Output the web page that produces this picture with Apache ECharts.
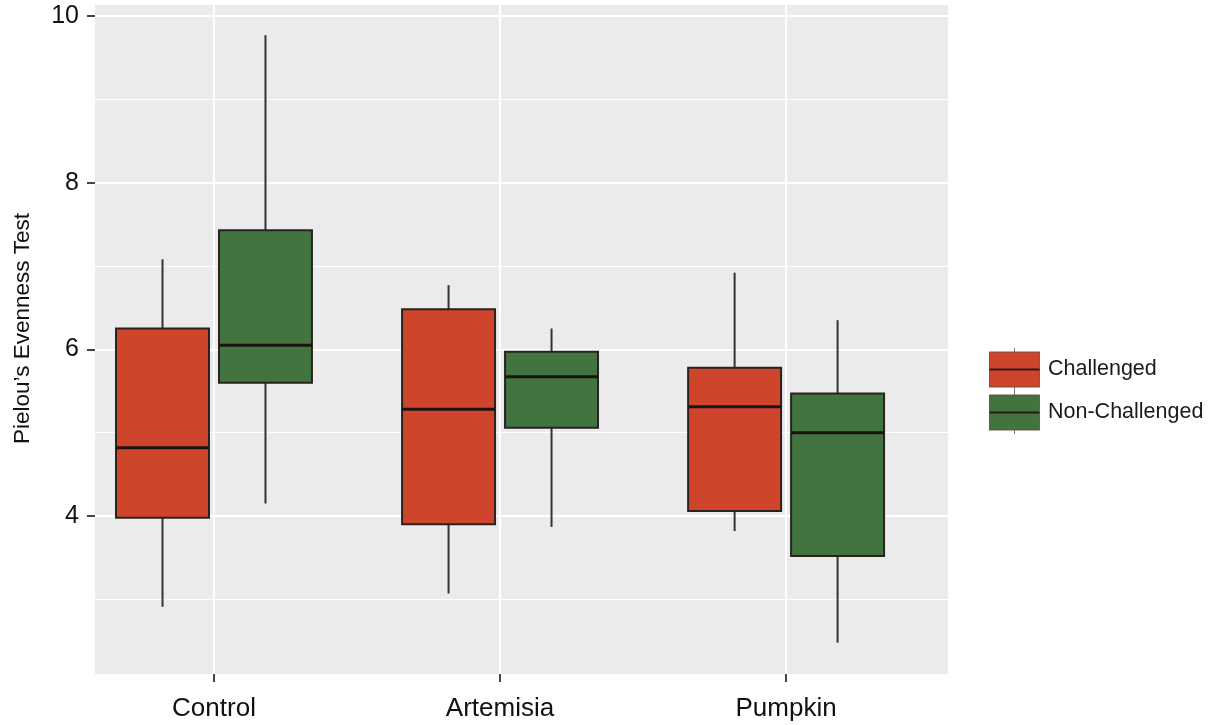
<!DOCTYPE html>
<html>
<head>
<meta charset="utf-8">
<script src="https://cdn.jsdelivr.net/npm/echarts@6/dist/echarts.min.js"></script>
<style>
html,body{margin:0;padding:0;background:#fff;}
#chart{width:1219px;height:725px;}
</style>
</head>
<body>
<div id="chart"></div>
<script>
// ---- data ----
const categories = ['Control', 'Artemisia', 'Pumpkin'];
const groupNames = ['Challenged', 'Non-Challenged'];
// [min, Q1, median, Q3, max]
const challenged = [
  [2.91, 3.98, 4.82, 6.25, 7.08],
  [3.07, 3.90, 5.28, 6.48, 6.77],
  [3.82, 4.06, 5.31, 5.78, 6.92]
];
const nonChallenged = [
  [4.15, 5.60, 6.05, 7.43, 9.77],
  [3.87, 5.06, 5.67, 5.97, 6.25],
  [2.48, 3.52, 5.00, 5.47, 6.35]
];
const yMajorTicks = [4, 6, 8, 10];
const yMinorTicks = [3, 5, 7, 9];
const yAxisTitle = 'Pielou\u2019s Evenness Test';

// ---- styling ----
const colors = ['#CF452C', '#41743F'];
const FONT = 'Liberation Sans';
const BOX_W = 0.325;      // box width in x-axis units
const DODGE = 0.18;       // centre offset of each group in x-axis units

function makeRender(offset, color) {
  return function (params, api) {
    const x = api.value(0) + offset;
    const cx = api.coord([x, api.value(3)])[0];
    const halfW = api.size([BOX_W, 0])[0] / 2;
    const yLo = api.coord([x, api.value(1)])[1];
    const yQ1 = api.coord([x, api.value(2)])[1];
    const yMed = api.coord([x, api.value(3)])[1];
    const yQ3 = api.coord([x, api.value(4)])[1];
    const yHi = api.coord([x, api.value(5)])[1];
    const whisker = { stroke: '#333333', lineWidth: 2 };
    return {
      type: 'group',
      children: [
        { type: 'line', shape: { x1: cx, y1: yHi, x2: cx, y2: yQ3 }, style: whisker },
        { type: 'line', shape: { x1: cx, y1: yQ1, x2: cx, y2: yLo }, style: whisker },
        { type: 'rect', shape: { x: cx - halfW, y: yQ3, width: 2 * halfW, height: yQ1 - yQ3 },
          style: { fill: color, stroke: '#2b2220', lineWidth: 2 } },
        { type: 'line', shape: { x1: cx - halfW, y1: yMed, x2: cx + halfW, y2: yMed },
          style: { stroke: '#1c1412', lineWidth: 3 } }
      ]
    };
  };
}

function keyIcon(color) {
  const svg = '<svg xmlns="http://www.w3.org/2000/svg" width="51" height="43" viewBox="0 0 51 43">' +
    '<line x1="25.5" y1="0" x2="25.5" y2="43" stroke="#777" stroke-width="1"/>' +
    '<rect x="0.6" y="4" width="49.8" height="35" fill="' + color + '" stroke="#6a4a44" stroke-width="0.9"/>' +
    '<line x1="0.6" y1="21.5" x2="50.4" y2="21.5" stroke="#2a1a18" stroke-width="2"/>' +
    '</svg>';
  return 'image://data:image/svg+xml;charset=utf-8,' + encodeURIComponent(svg);
}

const seriesData = [challenged, nonChallenged].map(function (arr) {
  return categories.map(function (c, i) { return [i + 1].concat(arr[i]); });
});

const chart = echarts.init(document.getElementById('chart'), null, { renderer: 'canvas' });
chart.setOption({
  animation: false,
  backgroundColor: '#ffffff',
  textStyle: { fontFamily: FONT },
  grid: {
    left: 95, right: 271, top: 5, bottom: 51,
    show: true, backgroundColor: '#EBEBEB', borderWidth: 0
  },
  legend: {
    orient: 'vertical',
    left: 989, top: 348,
    padding: 0,
    itemWidth: 51, itemHeight: 43, itemGap: 0,
    selectedMode: false,
    textStyle: { fontFamily: FONT, fontSize: 21.5, color: '#1a1a1a', padding: [0, 0, 0, 3] },
    data: groupNames.map(function (n, i) { return { name: n, icon: keyIcon(colors[i]) }; })
  },
  xAxis: {
    type: 'value',
    min: 0.584, max: 3.566,
    axisLine: { show: false },
    axisTick: { show: true, length: 8, lineStyle: { color: '#444', width: 2 }, customValues: [1, 2, 3] },
    axisLabel: {
      customValues: [1, 2, 3],
      formatter: function (v) { return categories[Math.round(v) - 1] || ''; },
      fontFamily: FONT, fontSize: 26, color: '#111111', margin: 22
    },
    splitLine: { show: true, lineStyle: { color: '#ffffff', width: 2 } }
  },
  yAxis: [{
    type: 'value',
    min: 2.104, max: 10.132,
    name: yAxisTitle,
    nameLocation: 'middle',
    nameRotate: 90,
    nameGap: 61,
    nameTextStyle: { fontFamily: FONT, fontSize: 22.5, color: '#111111', padding: [0, 0, 0, 22] },
    axisLine: { show: false },
    axisTick: { show: true, length: 8, lineStyle: { color: '#444', width: 2 }, customValues: yMajorTicks },
    axisLabel: { customValues: yMajorTicks, fontFamily: FONT, fontSize: 25, color: '#111111', margin: 16 },
    splitLine: { show: true, lineStyle: { color: '#ffffff', width: 2 } }
  }, {
    type: 'value',
    position: 'left',
    min: 2.104, max: 10.132,
    axisLine: { show: false },
    axisTick: { show: false, customValues: yMinorTicks },
    axisLabel: { show: false, customValues: yMinorTicks },
    splitLine: { show: true, lineStyle: { color: '#ffffff', width: 1 } }
  }],
  series: groupNames.map(function (n, i) {
    return {
      name: n,
      type: 'custom',
      xAxisIndex: 0, yAxisIndex: 0,
      renderItem: makeRender(i === 0 ? -DODGE : DODGE, colors[i]),
      encode: { x: 0, y: [1, 2, 3, 4, 5] },
      itemStyle: { color: colors[i] },
      data: seriesData[i]
    };
  })
});
</script>
</body>
</html>
